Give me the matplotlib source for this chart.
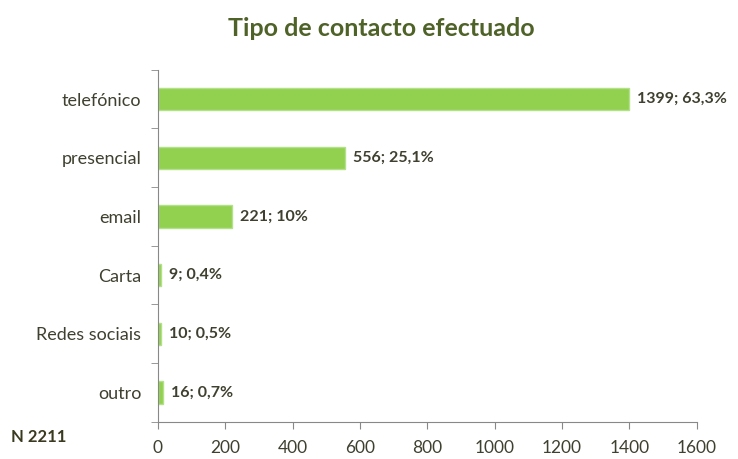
import matplotlib
matplotlib.use('Agg')
import matplotlib.pyplot as plt

categories = ['telefónico', 'presencial', 'email', 'Carta', 'Redes sociais', 'outro']
counts = [1399, 556, 221, 9, 10, 16]
labels = ['1399; 63,3%', '556; 25,1%', '221; 10%', '9; 0,4%', '10; 0,5%', '16; 0,7%']

text_col = '#404030'
olive = '#4F6228'

fig = plt.figure(figsize=(7.38, 4.59), dpi=100)
ax = fig.add_axes([0.214, 0.081, 0.730, 0.767])

ypos = list(range(len(categories)))
ax.barh(ypos, counts, height=0.38, color='#92D050', edgecolor='#B5E08A', linewidth=1)
ax.set_ylim(len(categories) - 0.5, -0.5)
ax.set_xlim(0, 1600)
ax.set_xticks(range(0, 1601, 200))
ax.set_yticks(ypos)
ax.set_yticklabels(categories)
ax.set_yticks([i + 0.5 for i in range(-1, len(categories))], minor=True)
ax.tick_params(axis='y', which='major', length=0, pad=12, labelsize=13, labelcolor=text_col)
ax.tick_params(axis='y', which='minor', length=5, color='#888888', direction='out')
ax.tick_params(axis='x', length=5, color='#888888', labelsize=12.5, labelcolor=text_col, pad=8)

for s in ['top', 'right']:
    ax.spines[s].set_visible(False)
for s in ['left', 'bottom']:
    ax.spines[s].set_color('#888888')

for y, v, lab in zip(ypos, counts, labels):
    ax.text(v + 24, y, lab, va='center', ha='left', fontsize=11.5, fontweight='bold',
            color=text_col, family='Lato')

for t in ax.get_xticklabels() + ax.get_yticklabels():
    t.set_family('Lato')

fig.text(0.517, 0.938, 'Tipo de contacto efectuado', ha='center', va='center',
         fontsize=18, fontweight='bold', color=olive, family='Lato')
fig.text(0.015, 0.048, 'N 2211', ha='left', va='center', fontsize=12,
         fontweight='bold', color='#3A3A20', family='Lato')

fig.savefig('out.png', dpi=100)
